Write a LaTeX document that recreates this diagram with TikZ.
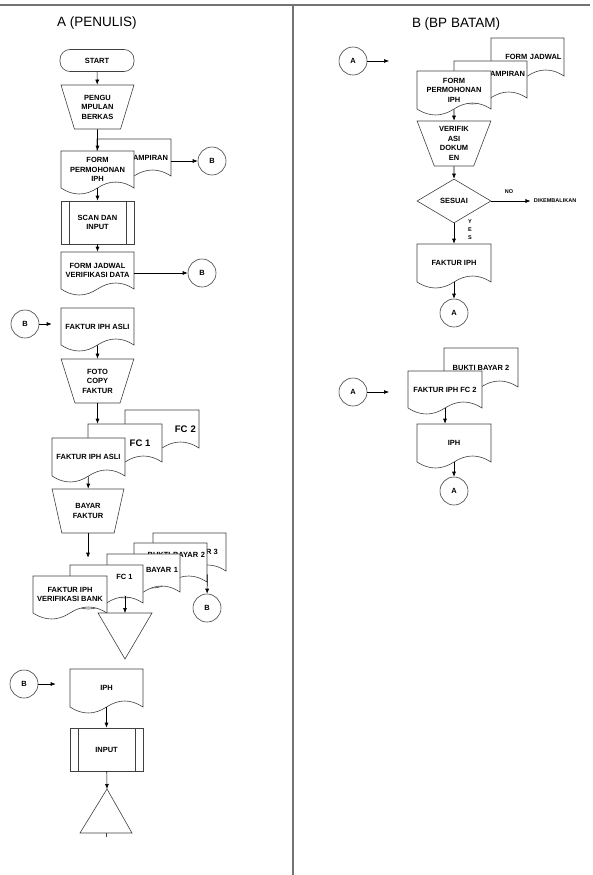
\documentclass[tikz,border=0pt]{standalone}
\usepackage{fontspec}
\setmainfont{Liberation Sans}
\usetikzlibrary{shapes.geometric,arrows.meta,calc}

% document symbol: outline first, then the named text node on top
\newcommand{\docshape}[7][]{%
  \filldraw[docline] (#3,#4) -- ++(#5,0) -- ++(0,#6)
    .. controls +(-#5/6,-8) and +(#5/6,-8) .. ++(-#5/2,0)
    .. controls +(-#5/6,8) and +(#5/6,8) .. ++(-#5/2,0) -- cycle;
  \node at (#3+#5/2,#4+#6/2) (#2) [doctext,minimum width=#5pt,minimum height=#6pt,#1] {#7};}

\begin{document}
\begin{tikzpicture}
  [x=1pt,y=-1pt,
   font=\bfseries\fontsize{7.5}{9.5}\selectfont,
   line width=0.6pt,
   >={Latex[length=5pt,width=4pt]},
   docline/.style={draw=black!75,fill=white},
   doctext/.style={inner sep=0pt,align=center},
   terminal/.style={draw=black!75,rounded corners=10pt,minimum width=74pt,minimum height=22pt},
   manual/.style={trapezium,trapezium left angle=69,trapezium right angle=69,
     trapezium stretches=true,shape border rotate=180,draw=black!75,inner sep=0pt,
     align=center,minimum width=73pt,minimum height=44pt},
   process/.style={draw=black!75,minimum width=73pt,minimum height=43pt,align=center,
     path picture={\draw[black!75]
       ([xshift=8pt]path picture bounding box.north west) -- ([xshift=8pt]path picture bounding box.south west)
       ([xshift=-8pt]path picture bounding box.north east) -- ([xshift=-8pt]path picture bounding box.south east);}},
   conn/.style={circle,draw=black!75,inner sep=0pt,minimum size=28pt},
   decision/.style={diamond,draw=black!75,inner sep=0pt,minimum width=74pt,minimum height=44pt},
   title/.style={font=\fontsize{13.5}{16}\selectfont},
   small/.style={font=\bfseries\fontsize{5.5}{8}\selectfont,inner sep=1pt},
   frame/.style={draw=black!55,line width=1.5pt}]
  \useasboundingbox (0,0) rectangle (593,875);
  \draw[frame] (0,5) -- (590,5);
  \draw[frame] (293,5) -- (293,875);

  \node at (97,23) (ttla) [title] {A (PENULIS)};
  \node at (456,24) (ttlb) [title] {B (BP BATAM)};

  % A (PENULIS)
  \node at (97,60.5) (start) [terminal] {START};
  \node at (97.5,107) (kumpul) [manual] {PENGU\\MPULAN\\BERKAS};
  \docshape[text width=68pt,align=right]{lamp1}{97}{139}{74}{37}{LAMPIRAN}
  \docshape{form1}{61}{151}{73}{37}{FORM\\PERMOHONAN\\IPH}
  \node at (212,161) (b1) [conn] {B};
  \node at (97.5,222.5) (scan) [process] {SCAN DAN\\INPUT};
  \docshape{jadwal1}{61}{252}{73}{37}{FORM JADWAL\\VERIFIKASI DATA}
  \node at (202,273) (b2) [conn] {B};
  \node at (25,324) (b3) [conn] {B};
  \docshape{asli1}{61}{308}{73}{37}{FAKTUR IPH ASLI}
  \node at (97.5,381) (foto) [manual] {FOTO\\COPY\\FAKTUR};
  \docshape[text width=68pt,align=right,font=\bfseries\fontsize{9.5}{11}\selectfont]{fc2}{125}{410}{74}{38}{FC 2}
  \docshape[xshift=15pt,font=\bfseries\fontsize{9.5}{11}\selectfont]{fc1}{88}{424}{74}{38}{FC 1}
  \docshape{asli2}{52}{438}{73}{38}{FAKTUR IPH ASLI}
  \node at (88,511) (bayar) [manual,minimum width=72pt] {BAYAR\\FAKTUR};
  \docshape{bukti3}{153}{533}{73}{38}{BUKTI BAYAR 3}
  \docshape[yshift=8pt,text width=69pt,align=right]{bukti2}{134}{543}{73}{39}{BUKTI BAYAR 2}
  \docshape[yshift=3pt,text width=69pt,align=right]{bukti1}{107}{554}{73}{38}{BUKTI BAYAR 1}
  \docshape[xshift=18pt,yshift=7pt]{fc1b}{70}{565}{73}{38}{FC 1}
  \docshape{bank}{33}{576}{74}{37}{FAKTUR IPH\\VERIFIKASI BANK}
  \node at (207,608) (b4) [conn] {B};
  \coordinate (simpan1) at (125,613);
  \draw[docline] (98,613) -- (152,613) -- (125,659) -- cycle;
  \node at (24,684) (b5) [conn] {B};
  \docshape{iph1}{70}{669}{73}{38}{IPH}
  \node at (106.5,749.5) (input) [process] {INPUT};
  \coordinate (simpan2) at (107,789);
  \draw[docline] (simpan2) -- (132,833) -- (80,833) -- cycle;
  \draw[docline] (106,833) -- (106,837);

  \draw[->] (start) -- (kumpul);
  \draw[->] (kumpul) -- (form1);
  \draw[->] (lamp1.east |- b1) -- (b1);
  \draw[->] (form1) -- (scan);
  \draw[->] (scan) -- (jadwal1);
  \draw[->] (jadwal1.east |- b2) -- (b2);
  \draw[->,shorten >=9pt] (b3) -- (b3 -| asli1.west);
  \draw[->] (asli1) -- (foto);
  \draw[->] (foto.south) -- (foto.south |- fc1.north);
  \draw[->] (asli2) -- (bayar);
  \draw[->] (bayar.south) -- (bayar.south |- fc1b.north);
  \draw[->] (bukti2.south east) -- (b4);
  \draw[->] (fc1b.south -| simpan1) -- (simpan1);
  \draw[->,shorten >=14pt] (b5) -- (b5 -| iph1.west);
  \draw[->] (iph1) -- (input);
  \draw[->] (input) -- (simpan2);

  % B (BP BATAM)
  \node at (353,61) (a1) [conn] {A};
  \coordinate (a1e) at (389,61);
  \docshape[text width=68pt,align=right]{jadwal2}{491}{38}{73}{38}{FORM JADWAL}
  \docshape[yshift=6pt,text width=69pt,align=right]{lamp2}{454}{61}{73}{37}{LAMPIRAN}
  \docshape{form2}{417}{71}{74}{38}{FORM\\PERMOHONAN\\IPH}
  \node at (454,143.5) (verif) [manual,minimum width=74pt,minimum height=45pt] {VERIFIK\\ASI\\DOKUM\\EN};
  \node at (454,201) (sesuai) [decision] {SESUAI};
  \node at (555,201) (kembali) [small,inner sep=3pt] {DIKEMBALIKAN};
  \node at (509,192) (no) [small] {NO};
  \node at (470,230) (yes) [small,align=center] {Y\\E\\S};
  \docshape{faktur}{417}{244}{74}{38}{FAKTUR IPH}
  \node at (454,313) (a2) [conn] {A};
  \node at (353,392) (a3) [conn] {A};
  \coordinate (a3e) at (389,392);
  \docshape{bukti2b}{444}{348}{74}{39}{BUKTI BAYAR 2}
  \docshape{fakfc2}{408}{371}{74}{37}{FAKTUR IPH FC 2}
  \docshape{iph2}{417}{424}{74}{38}{IPH}
  \node at (454,491) (a4) [conn] {A};

  \draw[->] (a1) -- (a1e);
  \draw[->] (form2) -- (verif);
  \draw[->] (verif) -- (sesuai);
  \draw[->] (sesuai) -- (kembali);
  \draw[->] (sesuai) -- (faktur);
  \draw[->] (faktur) -- (a2);
  \draw[->] (a3) -- (a3e);
  \draw[->] (fakfc2.south) -- (fakfc2.south |- iph2.north);
  \draw[->] (iph2) -- (a4);
\end{tikzpicture}
\end{document}
